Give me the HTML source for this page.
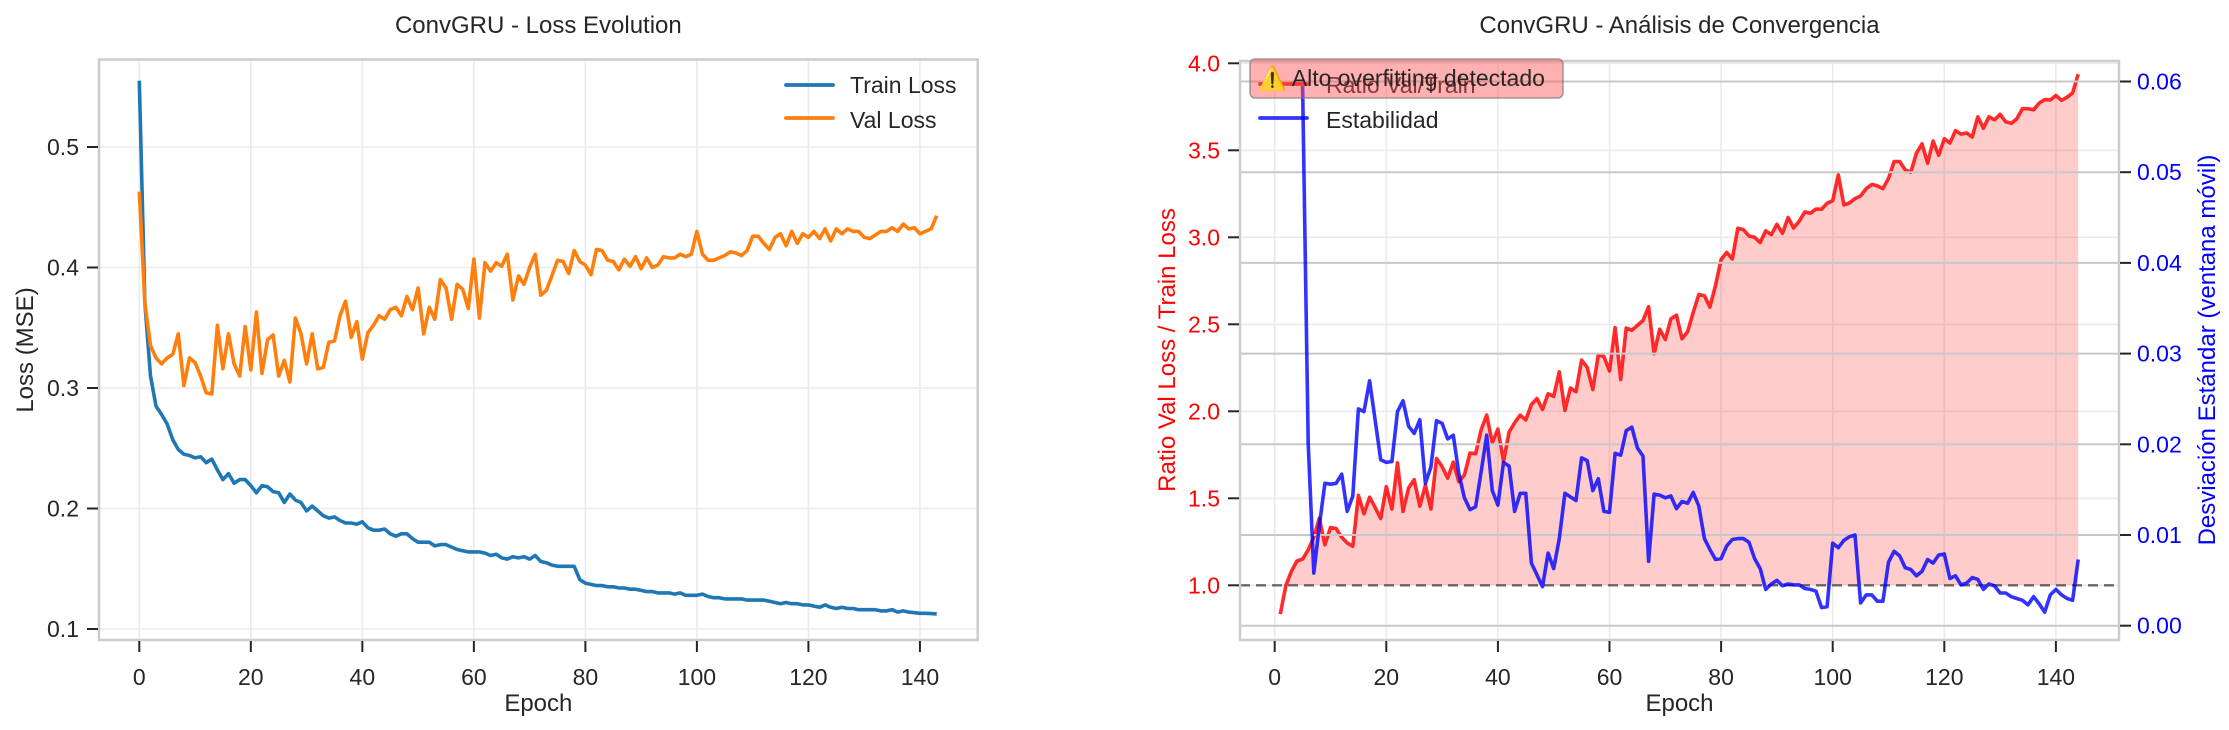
<!DOCTYPE html>
<html><head><meta charset="utf-8">
<style>
html,body{margin:0;padding:0;background:#fff;}
svg{display:block;font-family:"Liberation Sans","DejaVu Sans",sans-serif;}
</style></head>
<body>
<svg id="fig" width="2229" height="730" viewBox="0 0 2229 730" xmlns="http://www.w3.org/2000/svg">
<rect width="2229" height="730" fill="#fff"/>
<g id="left"></g>
<g id="right"></g>
</svg>
<script>
const trainLoss=[.555,.37,.31,.285,.278,.27,.257,.249,.245,.244,
.242,.243,.238,.241,.232,.224,.229,.221,.224,.224,
.219,.213,.219,.218,.214,.213,.205,.212,.207,.205,
.198,.202,.198,.194,.192,.193,.190,.188,.188,.187,
.189,.184,.182,.182,.183,.179,.177,.179,.179,.175,
.172,.172,.172,.169,.170,.170,.168,.166,.165,.164,
.164,.164,.163,.161,.162,.159,.158,.160,.159,.160,
.158,.161,.156,.155,.153,.152,.152,.152,.152,.141,
.138,.137,.136,.136,.135,.135,.134,.134,.133,.133,
.132,.131,.131,.130,.130,.130,.129,.130,.128,.128,
.128,.129,.127,.126,.126,.125,.125,.125,.125,.124,
.124,.124,.124,.123,.122,.121,.122,.121,.121,.120,
.120,.119,.118,.120,.118,.117,.118,.117,.117,.116,
.116,.116,.116,.115,.115,.116,.114,.115,.114,.1135,
.113,.113,.1128,.1125];
const valLoss=[.463,.37,.335,.325,.32,.325,.328,.345,.302,.325,
.321,.31,.296,.295,.352,.316,.345,.32,.31,.351,
.315,.363,.312,.34,.344,.31,.323,.305,.358,.345,
.32,.345,.316,.317,.338,.339,.36,.372,.342,.355,
.324,.346,.352,.36,.357,.365,.367,.36,.376,.365,
.383,.345,.367,.357,.39,.383,.357,.386,.382,.366,
.407,.358,.404,.397,.404,.401,.411,.373,.393,.386,
.40,.411,.377,.381,.393,.406,.405,.395,.414,.405,
.402,.394,.415,.414,.406,.405,.398,.407,.401,.409,
.399,.408,.40,.402,.409,.408,.408,.411,.409,.411,
.43,.411,.406,.406,.408,.41,.413,.412,.41,.414,
.426,.426,.42,.415,.425,.428,.418,.43,.42,.428,
.425,.43,.424,.432,.422,.432,.428,.432,.43,.43,
.425,.424,.427,.43,.43,.433,.43,.436,.432,.433,
.428,.43,.432,.443];
const stabStart=5;
const stability=[.0595,.0201,.0058,.011,.0157,.0156,.0157,.0167,.0126,.0143,
.0239,.0236,.027,.0227,.0183,.018,.0181,.0236,.0248,.022,
.0212,.0227,.0157,.0175,.0226,.0223,.0206,.021,.0168,.0141,
.0128,.0131,.017,.021,.0149,.0133,.018,.0176,.0126,.0146,
.0146,.0069,.0056,.0043,.008,.0063,.0096,.0146,.0142,.0138,
.0185,.0182,.0149,.0162,.0126,.0125,.019,.0188,.0215,.0219,
.0196,.0187,.0071,.0145,.0144,.0141,
.0143,.0129,.0137,.0135,.0147,.0132,.0096,.0084,.0073,.0074,
.0088,.0095,.0096,.0096,.0092,.0074,.0063,.004,.0046,.005,
.0044,.0046,.0045,.0045,.0041,.004,.0038,.002,.0021,.0091,
.0086,.0094,.0098,.01,.0025,.0034,.0034,.0027,.0027,.007,
.0082,.0077,.0064,.0062,.0055,.006,.0073,.0069,.0078,.0079,
.0052,.0055,.0045,.0047,.0053,.0051,.004,.0046,.0044,.0036,
.0036,.0032,.003,.0028,.0023,.0032,.0024,.0015,.0034,.004,
.0034,.003,.0028,.0073];
const xTicks=[0,20,40,60,80,100,120,140];
const lossTicks=[0.1,0.2,0.3,0.4,0.5];
const ratioTicks=[1.0,1.5,2.0,2.5,3.0,3.5,4.0];
const stdTicks=[0,0.01,0.02,0.03,0.04,0.05,0.06];

const NS="http://www.w3.org/2000/svg";
function mk(parent,tag,attrs,text){const e=document.createElementNS(NS,tag);for(const k in attrs)e.setAttribute(k,attrs[k]);if(text!==undefined)e.textContent=text;parent.appendChild(e);return e;}
const LW=3.6;
// ---------- LEFT ----------
const L=document.getElementById('left');
const lx=v=>139.3+v*5.576, ly=v=>629-(v-0.1)*1205;
const LX0=99,LX1=977.7,LY0=59.5,LY1=640;
for(const t of xTicks){const g=mk(L,'line',{x1:lx(t),x2:lx(t),y1:LY0,y2:LY1,stroke:'#ebebeb','stroke-width':1.6});}
for(const t of lossTicks){const g=mk(L,'line',{x1:LX0,x2:LX1,y1:ly(t),y2:ly(t),stroke:'#ebebeb','stroke-width':1.6});}
function path(xs,ys,fx,fy){return xs.map((x,i)=>(i?'L':'M')+fx(x).toFixed(1)+','+fy(ys[i]).toFixed(1)).join('');}
const idx=trainLoss.map((_,i)=>i);
let p=mk(L,'path',{d:path(idx,trainLoss,lx,ly),fill:'none',stroke:'#1f77b4','stroke-width':LW,'stroke-linejoin':'round'});

p=mk(L,'path',{d:path(idx,valLoss,lx,ly),fill:'none',stroke:'#ff7f0e','stroke-width':LW,'stroke-linejoin':'round'});

let fr=mk(L,'rect',{x:LX0,y:LY0,width:LX1-LX0,height:LY1-LY0,fill:'none',stroke:'#cccccc','stroke-width':2.5});

for(const t of xTicks){mk(L,'line',{x1:lx(t),x2:lx(t),y1:LY1+1,y2:LY1+12,stroke:'#262626','stroke-width':2});
 const tx=mk(L,'text',{x:lx(t),y:LY1+45,'text-anchor':'middle','font-size':23,fill:'#262626'},String(t));}
for(const t of lossTicks){mk(L,'line',{x1:LX0-12,x2:LX0-1,y1:ly(t),y2:ly(t),stroke:'#262626','stroke-width':2});
 const tx=mk(L,'text',{x:LX0-20,y:ly(t)+8,'text-anchor':'end','font-size':23,fill:'#262626'},t.toFixed(1));}
let t1=mk(L,'text',{x:(LX0+LX1)/2,y:711,'text-anchor':'middle','font-size':24,fill:'#262626'},'Epoch');
t1=mk(L,'text',{x:0,y:0,transform:'translate(33,350) rotate(-90)','text-anchor':'middle','font-size':24,fill:'#262626'},'Loss (MSE)');
t1=mk(L,'text',{x:(LX0+LX1)/2,y:33,'text-anchor':'middle','font-size':24,fill:'#262626'},'ConvGRU - Loss Evolution');
let lg=mk(L,'g',{});
mk(lg,'line',{x1:786,x2:833,y1:85,y2:85,stroke:'#1f77b4','stroke-width':3.8,'stroke-linecap':'round'});
let le=mk(lg,'text',{x:850,y:93,'font-size':23,fill:'#262626'},'Train Loss');
mk(lg,'line',{x1:786,x2:833,y1:118,y2:118,stroke:'#ff7f0e','stroke-width':3.8,'stroke-linecap':'round'});
le=mk(lg,'text',{x:850,y:128,'font-size':23,fill:'#262626'},'Val Loss');

// ---------- RIGHT ----------
const R=document.getElementById('right');
const rx=v=>1274.7+v*5.58, ry=v=>585.3-(v-1)*174, sy=v=>625.7-v*9070;
const RX0=1240,RX1=2119,RY0=61,RY1=640;
mk(R,'defs',{}).innerHTML='<clipPath id="above1"><rect x="'+RX0+'" y="'+RY0+'" width="'+(RX1-RX0)+'" height="'+(ry(1)-RY0)+'"/></clipPath><clipPath id="axR"><rect x="'+RX0+'" y="'+RY0+'" width="'+(RX1-RX0)+'" height="'+(RY1-RY0)+'"/></clipPath>';
for(const t of xTicks){const g=mk(R,'line',{x1:rx(t),x2:rx(t),y1:RY0,y2:RY1,stroke:'#ebebeb','stroke-width':1.6});}
for(const t of ratioTicks){const g=mk(R,'line',{x1:RX0,x2:RX1,y1:ry(t),y2:ry(t),stroke:'#ebebeb','stroke-width':1.6});}
const ratio=trainLoss.map((v,i)=>valLoss[i]/v);
const rEp=ratio.map((_,i)=>i+1);
let fillD=path(rEp,ratio,rx,ry)+'L'+rx(rEp[rEp.length-1])+','+ry(1)+'L'+rx(rEp[0])+','+ry(1)+'Z';
let f=mk(R,'path',{d:fillD,fill:'rgba(255,0,0,0.2)','clip-path':'url(#above1)'});

p=mk(R,'path',{d:path(rEp,ratio,rx,ry),fill:'none',stroke:'rgba(255,0,0,0.82)','stroke-width':LW,'stroke-linejoin':'round'});

let dl=mk(R,'line',{x1:RX0,x2:RX1,y1:ry(1),y2:ry(1),stroke:'rgba(60,60,60,0.75)','stroke-width':2.4,'stroke-dasharray':'10,6'});

for(const t of stdTicks){const g=mk(R,'line',{x1:RX0,x2:RX1,y1:sy(t),y2:sy(t),stroke:'#c8c8c8','stroke-width':2});}
const sEp=stability.map((_,i)=>i+stabStart);
p=mk(R,'path',{d:path(sEp,stability,rx,sy),fill:'none',stroke:'rgba(0,0,255,0.8)','stroke-width':LW,'stroke-linejoin':'round','clip-path':'url(#axR)'});

fr=mk(R,'rect',{x:RX0,y:RY0,width:RX1-RX0,height:RY1-RY0,fill:'none',stroke:'#cccccc','stroke-width':2.5});

for(const t of xTicks){mk(R,'line',{x1:rx(t),x2:rx(t),y1:RY1+1,y2:RY1+12,stroke:'#262626','stroke-width':2});
 const tx=mk(R,'text',{x:rx(t),y:RY1+45,'text-anchor':'middle','font-size':23,fill:'#262626'},String(t));}
for(const t of ratioTicks){mk(R,'line',{x1:RX0-12,x2:RX0-1,y1:ry(t),y2:ry(t),stroke:'#262626','stroke-width':2});
 const tx=mk(R,'text',{x:RX0-20,y:ry(t)+8,'text-anchor':'end','font-size':23,fill:'#ff0000'},t.toFixed(1));}
for(const t of stdTicks){mk(R,'line',{x1:RX1+1,x2:RX1+12,y1:sy(t),y2:sy(t),stroke:'#262626','stroke-width':2});
 const tx=mk(R,'text',{x:RX1+18,y:sy(t)+8,'text-anchor':'start','font-size':23,fill:'#0000ff'},t.toFixed(2));}
t1=mk(R,'text',{x:(RX0+RX1)/2,y:711,'text-anchor':'middle','font-size':24,fill:'#262626'},'Epoch');
t1=mk(R,'text',{x:0,y:0,transform:'translate(1175,350) rotate(-90)','text-anchor':'middle','font-size':24,fill:'#ff0000'},'Ratio Val Loss / Train Loss');
t1=mk(R,'text',{x:0,y:0,transform:'translate(2215,350) rotate(-90)','text-anchor':'middle','font-size':24,fill:'#0000ff'},'Desviación Estándar (ventana móvil)');
t1=mk(R,'text',{x:(RX0+RX1)/2,y:33,'text-anchor':'middle','font-size':24,fill:'#262626'},'ConvGRU - Análisis de Convergencia');
lg=mk(R,'g',{});
mk(lg,'line',{x1:1260,x2:1307,y1:84,y2:84,stroke:'rgba(255,0,0,0.85)','stroke-width':3.8,'stroke-linecap':'round'});
le=mk(lg,'text',{x:1326,y:93,'font-size':23,fill:'#262626'},'Ratio Val/Train');
mk(lg,'line',{x1:1260,x2:1307,y1:118,y2:118,stroke:'rgba(0,0,255,0.8)','stroke-width':3.8,'stroke-linecap':'round'});
le=mk(lg,'text',{x:1326,y:128,'font-size':23,fill:'#262626'},'Estabilidad');
let an=mk(R,'g',{});
mk(an,'rect',{x:1250,y:59,width:313,height:39,rx:5,fill:'rgba(255,80,80,0.45)',stroke:'rgba(120,120,120,0.7)','stroke-width':1.5});
mk(an,'text',{x:1258,y:86,'font-size':23,fill:'#262626'},'⚠️ Alto overfitting detectado');
</script>
</body></html>
